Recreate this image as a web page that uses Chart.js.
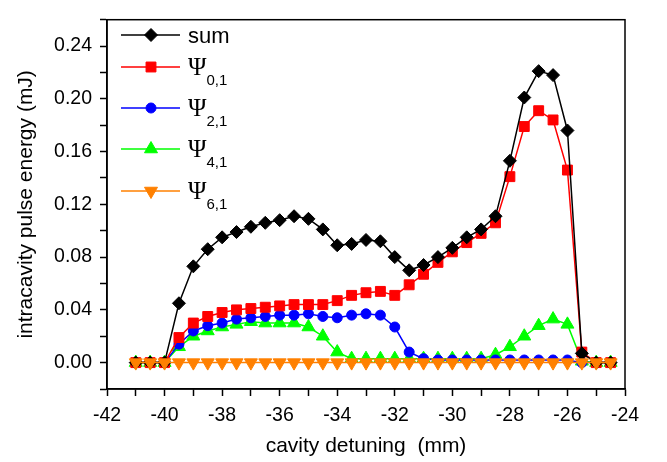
<!DOCTYPE html>
<html lang="en">
<head>
    <meta charset="UTF-8">
    <title>Intracavity pulse energy vs cavity detuning</title>
    <script src="https://cdn.jsdelivr.net/npm/chart.js"></script>
    <style>
        html, body { margin: 0; padding: 0; background: #fff; }
        #wrap { width: 667px; height: 462px; }
    </style>
</head>
<body>
    <div id="wrap">
        <canvas id="energyChart" width="667" height="462"></canvas>
    </div>

    <script>
        // cavity detuning (mm)
        const detuning = [
            -41, -40.5, -40, -39.5, -39, -38.5, -38, -37.5, -37, -36.5, -36, -35.5,
            -35, -34.5, -34, -33.5, -33, -32.5, -32, -31.5, -31, -30.5, -30, -29.5,
            -29, -28.5, -28, -27.5, -27, -26.5, -26, -25.5, -25, -24.5
        ];
        // intracavity pulse energy (mJ)
        const sumEnergy = [
            0, 0, 0, 0.045, 0.073, 0.086, 0.095, 0.099, 0.103, 0.106, 0.108, 0.111,
            0.109, 0.101, 0.089, 0.090, 0.093, 0.092, 0.080, 0.070, 0.074, 0.080, 0.087, 0.095,
            0.101, 0.111, 0.153, 0.201, 0.221, 0.218, 0.176, 0.007, 0, 0
        ];
        const psi01 = [
            0, 0, 0, 0.019, 0.030, 0.035, 0.038, 0.040, 0.041, 0.042, 0.043, 0.044,
            0.044, 0.044, 0.047, 0.051, 0.053, 0.054, 0.051, 0.059, 0.067, 0.076, 0.084, 0.091,
            0.098, 0.106, 0.141, 0.179, 0.191, 0.184, 0.146, 0.008, 0, 0
        ];
        const psi21 = [
            0, 0, 0, 0.014, 0.024, 0.028, 0.030, 0.033, 0.034, 0.035, 0.036, 0.036,
            0.037, 0.035, 0.034, 0.036, 0.037, 0.036, 0.027, 0.008, 0.003, 0.002, 0.002, 0.002,
            0.002, 0.002, 0.002, 0.002, 0.002, 0.002, 0.002, 0, 0, 0
        ];
        const psi41 = [
            0, 0, 0, 0.012, 0.020, 0.024, 0.027, 0.029, 0.031, 0.030, 0.030, 0.030,
            0.027, 0.020, 0.008, 0.003, 0.003, 0.003, 0.003, 0.003, 0.003, 0.003, 0.003, 0.003,
            0.003, 0.006, 0.012, 0.020, 0.028, 0.033, 0.029, 0.001, 0, 0
        ];
        const psi61 = [
            0, 0, 0, 0, 0, 0, 0, 0, 0, 0, 0, 0,
            0, 0, 0, 0, 0, 0, 0, 0, 0, 0, 0, 0,
            0, 0, 0, 0, 0, 0, 0, 0, 0, 0
        ];
        const seriesNames = ['sum', 'Ψ', 'Ψ', 'Ψ', 'Ψ'];
        const seriesSubs = ['', '0,1', '2,1', '4,1', '6,1'];

        const sansFont = '"Liberation Sans", Arial, sans-serif';
        const serifFont = '"Liberation Serif", "Times New Roman", serif';

        function pairs(values) {
            return values.map((v, i) => ({ x: detuning[i], y: v }));
        }

        function series(label, values, color, style, radius, rotation, order) {
            return {
                label: label,
                data: pairs(values),
                borderColor: color,
                backgroundColor: color,
                borderWidth: 1.5,
                pointStyle: style,
                pointRadius: radius,
                pointRotation: rotation,
                pointBorderWidth: 1,
                pointBorderColor: color,
                pointBackgroundColor: color,
                tension: 0,
                order: order
            };
        }

        // legend drawn by hand, so the subscripts can be set lower
        const legendRows = [35, 67, 108, 149, 191];
        const customLegend = {
            id: 'customLegend',
            afterDatasetsDraw(chart) {
                const ctx = chart.ctx;
                ctx.save();
                chart.data.datasets.forEach((ds, i) => {
                    const y = legendRows[i];
                    ctx.strokeStyle = ds.borderColor;
                    ctx.fillStyle = ds.backgroundColor;
                    ctx.lineWidth = 1.5;
                    ctx.beginPath();
                    ctx.moveTo(121, y);
                    ctx.lineTo(180, y);
                    ctx.stroke();
                    ctx.lineWidth = 1;
                    Chart.helpers.drawPoint(ctx, {
                        pointStyle: ds.pointStyle,
                        radius: ds.pointRadius,
                        rotation: ds.pointRotation,
                        borderWidth: 1
                    }, 151, y);

                    ctx.fillStyle = '#000';
                    ctx.textBaseline = 'alphabetic';
                    ctx.textAlign = 'left';
                    if (seriesSubs[i] === '') {
                        ctx.font = '22px ' + sansFont;
                        ctx.fillText(seriesNames[i], 188, y + 8);
                    } else {
                        ctx.font = '25px ' + serifFont;
                        ctx.fillText(seriesNames[i], 188, y + 8);
                        const w = ctx.measureText(seriesNames[i]).width;
                        ctx.font = '15px ' + sansFont;
                        ctx.fillText(seriesSubs[i], 188 + w, y + 18);
                    }
                });
                ctx.restore();
            }
        };

        // closed frame round the plot area
        const frame = {
            id: 'frame',
            afterDraw(chart) {
                const a = chart.chartArea;
                const ctx = chart.ctx;
                ctx.save();
                ctx.strokeStyle = '#000';
                ctx.lineWidth = 1.5;
                ctx.strokeRect(a.left, a.top, a.right - a.left, a.bottom - a.top);
                ctx.restore();
            }
        };

        const ctx = document.getElementById('energyChart').getContext('2d');

        const energyChart = new Chart(ctx, {
            type: 'line',
            data: {
                datasets: [
                    series('sum', sumEnergy, '#000000', 'rectRot', 6.5, 0, 1),
                    series('Ψ0,1', psi01, '#ff0000', 'rect', 7, 0, 2),
                    series('Ψ2,1', psi21, '#0000ff', 'circle', 5, 0, 3),
                    series('Ψ4,1', psi41, '#00ff00', 'triangle', 7.5, 0, 4),
                    series('Ψ6,1', psi61, '#ff8000', 'triangle', 7.5, 180, 0)
                ]
            },
            options: {
                responsive: false,
                animation: false,
                layout: {
                    padding: { top: 10, right: 42, left: 0, bottom: 0 }
                },
                plugins: {
                    legend: { display: false },
                    tooltip: { enabled: false }
                },
                scales: {
                    x: {
                        type: 'linear',
                        min: -42,
                        max: -24,
                        afterFit(scale) { scale.height = 73; },
                        ticks: {
                            stepSize: 1,
                            autoSkip: false,
                            maxRotation: 0,
                            padding: 8,
                            color: '#000',
                            font: { family: sansFont, size: 19.5 },
                            callback: v => (v % 2 === 0 ? String(v) : '')
                        },
                        grid: {
                            drawOnChartArea: false,
                            drawTicks: true,
                            tickLength: 7,
                            tickWidth: 1.5,
                            tickColor: '#000'
                        },
                        border: { display: true, color: '#000', width: 1.5 },
                        title: {
                            display: true,
                            text: 'cavity detuning  (mm)',
                            color: '#000',
                            font: { family: sansFont, size: 21 },
                            padding: { top: 0, bottom: 3 }
                        }
                    },
                    y: {
                        min: -0.02,
                        max: 0.26,
                        afterFit(scale) { scale.width = 107; },
                        ticks: {
                            stepSize: 0.02,
                            autoSkip: false,
                            padding: 8,
                            color: '#000',
                            font: { family: sansFont, size: 19.5 },
                            callback: v => {
                                const n = Math.round(v * 100);
                                return (n % 4 === 0 && n >= 0 && n <= 24) ? (n / 100).toFixed(2) : '';
                            }
                        },
                        grid: {
                            drawOnChartArea: false,
                            drawTicks: true,
                            tickLength: 7,
                            tickWidth: 1.5,
                            tickColor: '#000'
                        },
                        border: { display: true, color: '#000', width: 1.5 },
                        title: {
                            display: true,
                            text: 'intracavity pulse energy (mJ)',
                            color: '#000',
                            font: { family: sansFont, size: 21 },
                            padding: { top: 14, bottom: 0 }
                        }
                    }
                }
            },
            plugins: [customLegend, frame]
        });
    </script>
</body>
</html>
